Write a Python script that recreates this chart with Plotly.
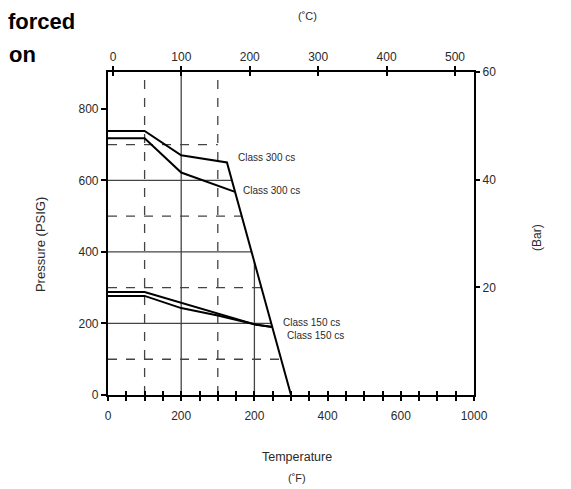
import plotly.graph_objects as go

# ---------------- data ----------------
temp_f_ticks = [0, 200, 400, 600, 800, 1000]
temp_f_labels = ["0", "200", "200", "400", "600", "1000"]
temp_c_ticks = [0, 100, 200, 300, 400, 500]
psig_ticks = [0, 200, 400, 600, 800]
bar_ticks = [20, 40, 60]

# Class 300 cs (two curves, upper one carries the steep cut-off)
c300_a_temp = [0, 100, 200, 325, 500]
c300_a_psig = [738, 738, 670, 650, 0]
c300_b_temp = [0, 100, 200, 347]
c300_b_psig = [718, 718, 622, 568]

# Class 150 cs (two curves)
c150_a_temp = [0, 100, 405, 449]
c150_a_psig = [288, 288, 196, 190]
c150_b_temp = [0, 100, 200, 300, 400, 449]
c150_b_psig = [277, 277, 243, 222, 198, 190]

# grid lines, which stop at the cut-off line
grid_h_psig = [100, 200, 300, 400, 500, 600, 700]
grid_h_end_f = [468, 446, 419, 392, 365, 340, 300]
grid_h_dashed = [True, False, True, False, True, False, True]
grid_v_temp = [100, 200, 300, 400]
grid_v_top_psig = [903, 903, 903, 372]
grid_v_dashed = [True, False, True, False]

labels = ["Class 300 cs", "Class 300 cs", "Class 150 cs", "Class 150 cs"]
label_temp = [350, 363, 473, 484]
label_psig = [663, 573, 204, 165]

# ---------------- figure ----------------
FONT = "Liberation Sans, Arial, sans-serif"
TXT = "#2a2a2a"

fig = go.Figure()

curves = [(c300_a_temp, c300_a_psig), (c300_b_temp, c300_b_psig),
          (c150_a_temp, c150_a_psig), (c150_b_temp, c150_b_psig)]
for t, p in curves:
    fig.add_trace(go.Scatter(x=t, y=p, mode="lines",
                             line=dict(color="black", width=2),
                             showlegend=False, hoverinfo="skip"))

# empty traces so the extra axes get drawn
for xa, ya in [("x2", "y"), ("x3", "y"), ("x4", "y"), ("x", "y2")]:
    fig.add_trace(go.Scatter(x=[], y=[], xaxis=xa, yaxis=ya,
                             showlegend=False, hoverinfo="skip"))

shapes = []
for p, end, d in zip(grid_h_psig, grid_h_end_f, grid_h_dashed):
    shapes.append(dict(type="line", xref="x", yref="y", x0=0, x1=end, y0=p, y1=p,
                       layer="below",
                       line=dict(color="#444", width=1.3, dash="dash" if d else "solid")))
for t, top, d in zip(grid_v_temp, grid_v_top_psig, grid_v_dashed):
    shapes.append(dict(type="line", xref="x", yref="y", x0=t, x1=t, y0=0, y1=top,
                       layer="below",
                       line=dict(color="#444", width=1.3, dash="dash" if d else "solid")))

ann = []
for s, t, p in zip(labels, label_temp, label_psig):
    ann.append(dict(x=t, y=p, xref="x", yref="y", text=s, showarrow=False,
                    xanchor="left", yanchor="middle",
                    font=dict(family=FONT, size=10, color=TXT)))

def paper_text(text, x, y, size, angle=0, anchor="center", bold=False):
    return dict(x=x, y=y, xref="paper", yref="paper", text=text, showarrow=False,
                xanchor=anchor, yanchor="middle", textangle=angle,
                font=dict(family=FONT, size=size, color="black" if bold else TXT,
                          weight="bold" if bold else "normal"))

ann += [
    paper_text("(˚C)", 0.544, 1.172, 11),
    paper_text("Temperature", 0.516, -0.192, 12.5),
    paper_text("(˚F)", 0.516, -0.257, 11),
    paper_text("Pressure (PSIG)", -0.186, 0.467, 13, angle=-90),
    paper_text("(Bar)", 1.172, 0.489, 12, angle=-90),
    paper_text("forced", -0.085, 1.155, 22, anchor="right", bold=True),
    paper_text("on", -0.192, 1.053, 22, anchor="right", bold=True),
]

tickfont = dict(family=FONT, size=12, color=TXT)
base = dict(showgrid=False, zeroline=False, tickfont=tickfont, tickcolor="black", tickwidth=1.5)

# page body has an 8px margin, so the figure is drawn 8px smaller
fig.update_layout(
    width=563, height=481,
    margin=dict(l=100, r=97, t=64, b=94),
    paper_bgcolor="white", plot_bgcolor="white",
    showlegend=False,
    shapes=shapes, annotations=ann,
    xaxis=dict(base, range=[0, 1000], tickmode="array", tickvals=temp_f_ticks,
               ticktext=temp_f_labels, ticks="outside", ticklen=4,
               minor=dict(tickmode="linear", tick0=0, dtick=50, ticks="outside",
                          ticklen=4, tickwidth=1.5, tickcolor="black"),
               showline=True, linewidth=2.2, linecolor="black", ticklabelstandoff=4),
    xaxis3=dict(base, overlaying="x", anchor="y", side="bottom", range=[0, 1000],
                tickmode="linear", tick0=0, dtick=50, ticks="inside", ticklen=4,
                showticklabels=False),
    xaxis2=dict(base, overlaying="x", anchor="y", side="top", range=[-7.3, 527.8],
                tickmode="array", tickvals=temp_c_ticks, ticks="outside", ticklen=4,
                showline=True, linewidth=2.2, linecolor="black"),
    xaxis4=dict(base, overlaying="x", anchor="y", side="top", range=[-7.3, 527.8],
                tickmode="array", tickvals=temp_c_ticks, ticks="inside", ticklen=4,
                showticklabels=False),
    yaxis=dict(base, range=[0, 903], tickmode="array", tickvals=psig_ticks,
               ticks="outside", ticklen=5, showline=True, linewidth=2.2,
               linecolor="black"),
    yaxis2=dict(base, overlaying="y", side="right", anchor="x", range=[0, 60],
                tickmode="array", tickvals=bar_ticks, ticks="outside", ticklen=4,
                showline=True, linewidth=2.2, linecolor="black"),
)

fig.write_html("out.html")
